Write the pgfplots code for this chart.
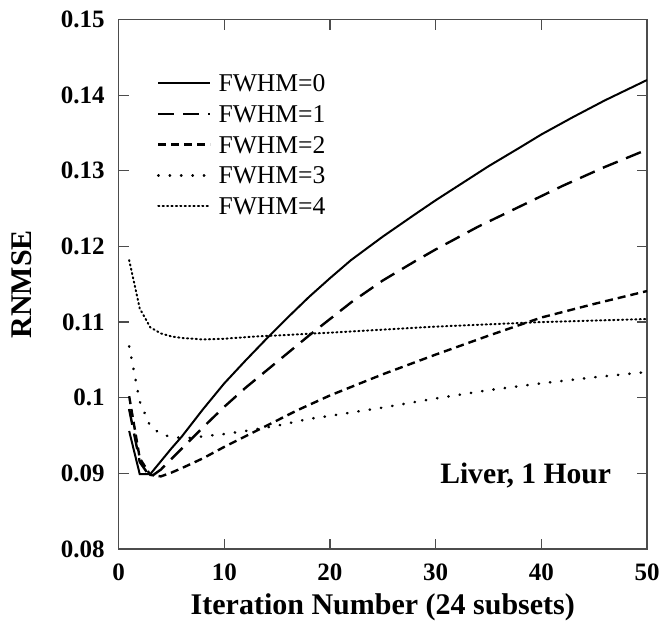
\documentclass[border=0pt]{standalone}
\usepackage{pgfplots}
\pgfplotsset{compat=1.18}
\usepackage{fontspec}
\setmainfont{Liberation Serif}
\begin{document}
\begin{tikzpicture}
\begin{axis}[
  at={(0,0)}, anchor=south west,
  scale only axis, width=264.2bp, height=264.75bp,
  xmin=0, xmax=50, ymin=0.08, ymax=0.15,
  xtick={0,10,20,30,40,50},
  ytick={0.08,0.09,0.1,0.11,0.12,0.13,0.14,0.15},
  tick align=inside, major tick length=5bp,
  axis line style={black!70, line width=0.6bp},
  tick style={black!70, line width=0.6bp},
  /pgf/number format/assume math mode=true,
  ticklabel style={font=\fontsize{12.5bp}{14bp}\selectfont\bfseries},
  yticklabel style={/pgf/number format/fixed, /pgf/number format/precision=2, xshift=-3.5bp},
  xticklabel style={yshift=-4bp},
  scaled y ticks=false,
  xlabel={Iteration Number (24 subsets)},
  ylabel={RNMSE},
  label style={font=\fontsize{15bp}{18bp}\selectfont\bfseries},
  xlabel style={at={(axis description cs:0.5,-0.1095)}, anchor=center},
  ylabel style={at={(axis description cs:-0.184,0.5)}, anchor=center},
  legend style={draw=none, fill=none, at={(0.0605,0.910)}, anchor=north west,
    font=\fontsize{12.8bp}{15bp}\selectfont, row sep=3.9bp,
    nodes={inner sep=1bp, text height=9bp, text depth=0.5bp},
    /tikz/every odd column/.style={column sep=2.5bp}},
  legend cell align=left,
  legend image code/.code={\draw[#1] (0bp,0bp) -- (26bp,0bp);},
]
\addplot[black, line width=1bp] coordinates {
(1,0.0956) (2,0.0899) (3,0.0899) (4,0.0916) (5,0.0933) (6,0.0949) (8,0.0985)
(10,0.1019) (12,0.1049) (14,0.1078) (16,0.1106) (18,0.1133) (20,0.1158)
(22,0.1182) (25,0.1213) (28,0.1242) (30,0.1261) (32,0.1279) (35,0.1306)
(38,0.1331) (40,0.1348) (43,0.1371) (46,0.1393) (50,0.1420)};
\addlegendentry{FWHM=0}
\addplot[black, line width=1.2bp, dash pattern=on 8bp off 4.5bp] coordinates {
(1,0.0985) (2,0.0915) (3,0.0895) (4,0.0905) (5,0.0919) (6,0.0933) (8,0.0961)
(10,0.0988) (12,0.1013) (14,0.1036) (16,0.1059) (18,0.1082) (20,0.1104)
(22,0.1126) (25,0.1155) (28,0.1180) (30,0.1196) (34,0.1226) (38,0.1253)
(42,0.1280) (46,0.1305) (50,0.1328)};
\addlegendentry{FWHM=1}
\addplot[black, line width=1.2bp, dash pattern=on 4bp off 2.5bp] coordinates {
(1,0.1002) (2,0.0920) (3,0.0898) (4,0.0896) (5,0.0901) (6,0.0907) (8,0.0920)
(10,0.0935) (13,0.0956) (17,0.0984) (20,0.1003) (25,0.1031) (30,0.1057)
(35,0.1082) (40,0.1106) (45,0.1124) (50,0.1141)};
\addlegendentry{FWHM=2}
\addplot[black, line width=1.3bp, line cap=round, dash pattern=on 0.2bp off 5.5bp] coordinates {
(1,0.1068) (2,0.0995) (3,0.0962) (4,0.0952) (5,0.0948) (6,0.0947) (7,0.0947)
(8,0.0949) (10,0.0952) (12,0.0956) (15,0.0963) (18,0.0972) (20,0.0976)
(25,0.0987) (30,0.0999) (35,0.1010) (40,0.1019) (45,0.1027) (50,0.1034)};
\addlegendentry{FWHM=3}
\addplot[black, line width=1bp, line cap=round, dash pattern=on 0.6bp off 1.6bp] coordinates {
(1,0.1182) (2,0.1118) (3,0.1093) (4,0.1085) (5,0.1081) (6,0.1079) (8,0.1077)
(10,0.1078) (13,0.1081) (16,0.1083) (20,0.1086) (25,0.1090) (30,0.1094)
(35,0.1097) (40,0.1100) (45,0.1102) (50,0.1104)};
\addlegendentry{FWHM=4}
\node[anchor=base west, font=\fontsize{14.8bp}{17bp}\selectfont\bfseries, inner sep=0pt]
  at (axis cs:30.4,0.0887) {Liver, 1 Hour};
\end{axis}
\pgfresetboundingbox
\path (-59.3bp,-44bp) rectangle (274.2bp,274.5bp);
\end{tikzpicture}
\end{document}
